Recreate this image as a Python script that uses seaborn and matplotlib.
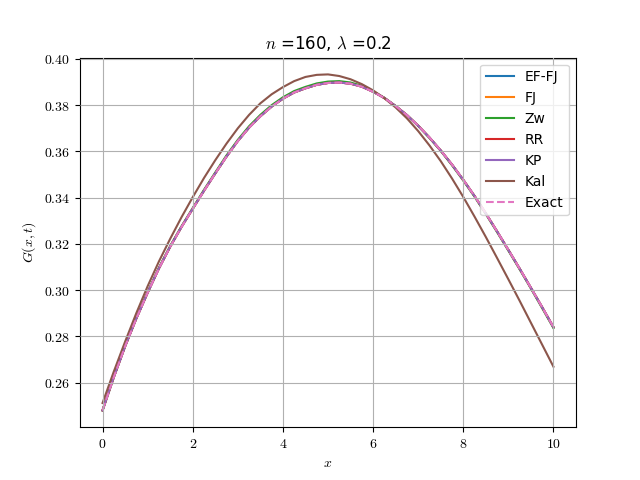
import numpy as np
import pandas as pd
import matplotlib
matplotlib.use("Agg")
import matplotlib.pyplot as plt
import seaborn as sns
from matplotlib.ticker import FuncFormatter

# values (x step 0.25)
x = [0.0, 0.25, 0.5, 0.75, 1.0, 1.25, 1.5, 1.75, 2.0, 2.25,
     2.5, 2.75, 3.0, 3.25, 3.5, 3.75, 4.0, 4.25, 4.5, 4.75,
     5.0, 5.25, 5.5, 5.75, 6.0, 6.25, 6.5, 6.75, 7.0, 7.25,
     7.5, 7.75, 8.0, 8.25, 8.5, 8.75, 9.0, 9.25, 9.5, 9.75, 10.0]

exact = [0.2480, 0.2624, 0.2757, 0.2878, 0.2989, 0.3094, 0.3188, 0.3273, 0.3352, 0.3430,
         0.3505, 0.3578, 0.3645, 0.3703, 0.3752, 0.3794, 0.3828, 0.3855, 0.3873, 0.3888,
         0.3896, 0.3898, 0.3893, 0.3880, 0.3858, 0.3831, 0.3796, 0.3757, 0.3711, 0.3660,
         0.3604, 0.3543, 0.3477, 0.3407, 0.3332, 0.3254, 0.3174, 0.3093, 0.3010, 0.2926, 0.2840]
zw = [0.2480, 0.2625, 0.2758, 0.2880, 0.2991, 0.3097, 0.3191, 0.3276, 0.3355, 0.3434,
      0.3509, 0.3583, 0.3650, 0.3709, 0.3758, 0.3800, 0.3834, 0.3861, 0.3879, 0.3894,
      0.3902, 0.3904, 0.3898, 0.3884, 0.3860, 0.3832, 0.3796, 0.3757, 0.3710, 0.3658,
      0.3602, 0.3540, 0.3474, 0.3404, 0.3329, 0.3251, 0.3171, 0.3090, 0.3007, 0.2922, 0.2836]
kal = [0.2512, 0.2648, 0.2777, 0.2901, 0.3017, 0.3124, 0.3222, 0.3315, 0.3402, 0.3485,
       0.3562, 0.3634, 0.3700, 0.3758, 0.3808, 0.3847, 0.3878, 0.3904, 0.3922, 0.3931,
       0.3933, 0.3926, 0.3912, 0.3891, 0.3864, 0.3830, 0.3790, 0.3743, 0.3688, 0.3626,
       0.3558, 0.3483, 0.3403, 0.3318, 0.3230, 0.3139, 0.3047, 0.2954, 0.2859, 0.2764, 0.2669]
# these lie under the Exact curve in the picture
ef_fj = list(exact)
fj = list(exact)
rr = list(exact)
kp = list(exact)

labels = ["EF-FJ", "FJ", "Zw", "RR", "KP", "Kal", "Exact"]
series = [ef_fj, fj, zw, rr, kp, kal, exact]

plt.rcParams["mathtext.fontset"] = "cm"

fig, ax = plt.subplots(figsize=(6.4, 4.8), dpi=100)
colors = sns.color_palette("tab10")

for i, (lab, vals) in enumerate(zip(labels, series)):
    ls = "--" if lab == "Exact" else "-"
    sns.lineplot(x=x, y=vals, ax=ax, color=colors[i], label=lab,
                 linestyle=ls, linewidth=1.5)

ax.grid(True, color="#b0b0b0", linewidth=0.8)
ax.set_axisbelow(False)
ax.xaxis.set_major_formatter(FuncFormatter(lambda v, p: "$%g$" % v))
ax.yaxis.set_major_formatter(FuncFormatter(lambda v, p: "$%.2f$" % v))
ax.set_xlabel("$x$")
ax.set_ylabel("$G(x,t)$")
ax.set_title(r"$n$ =160, $\lambda$ =0.2")
ax.legend(loc="upper right")

fig.savefig("out.png", dpi=100)
